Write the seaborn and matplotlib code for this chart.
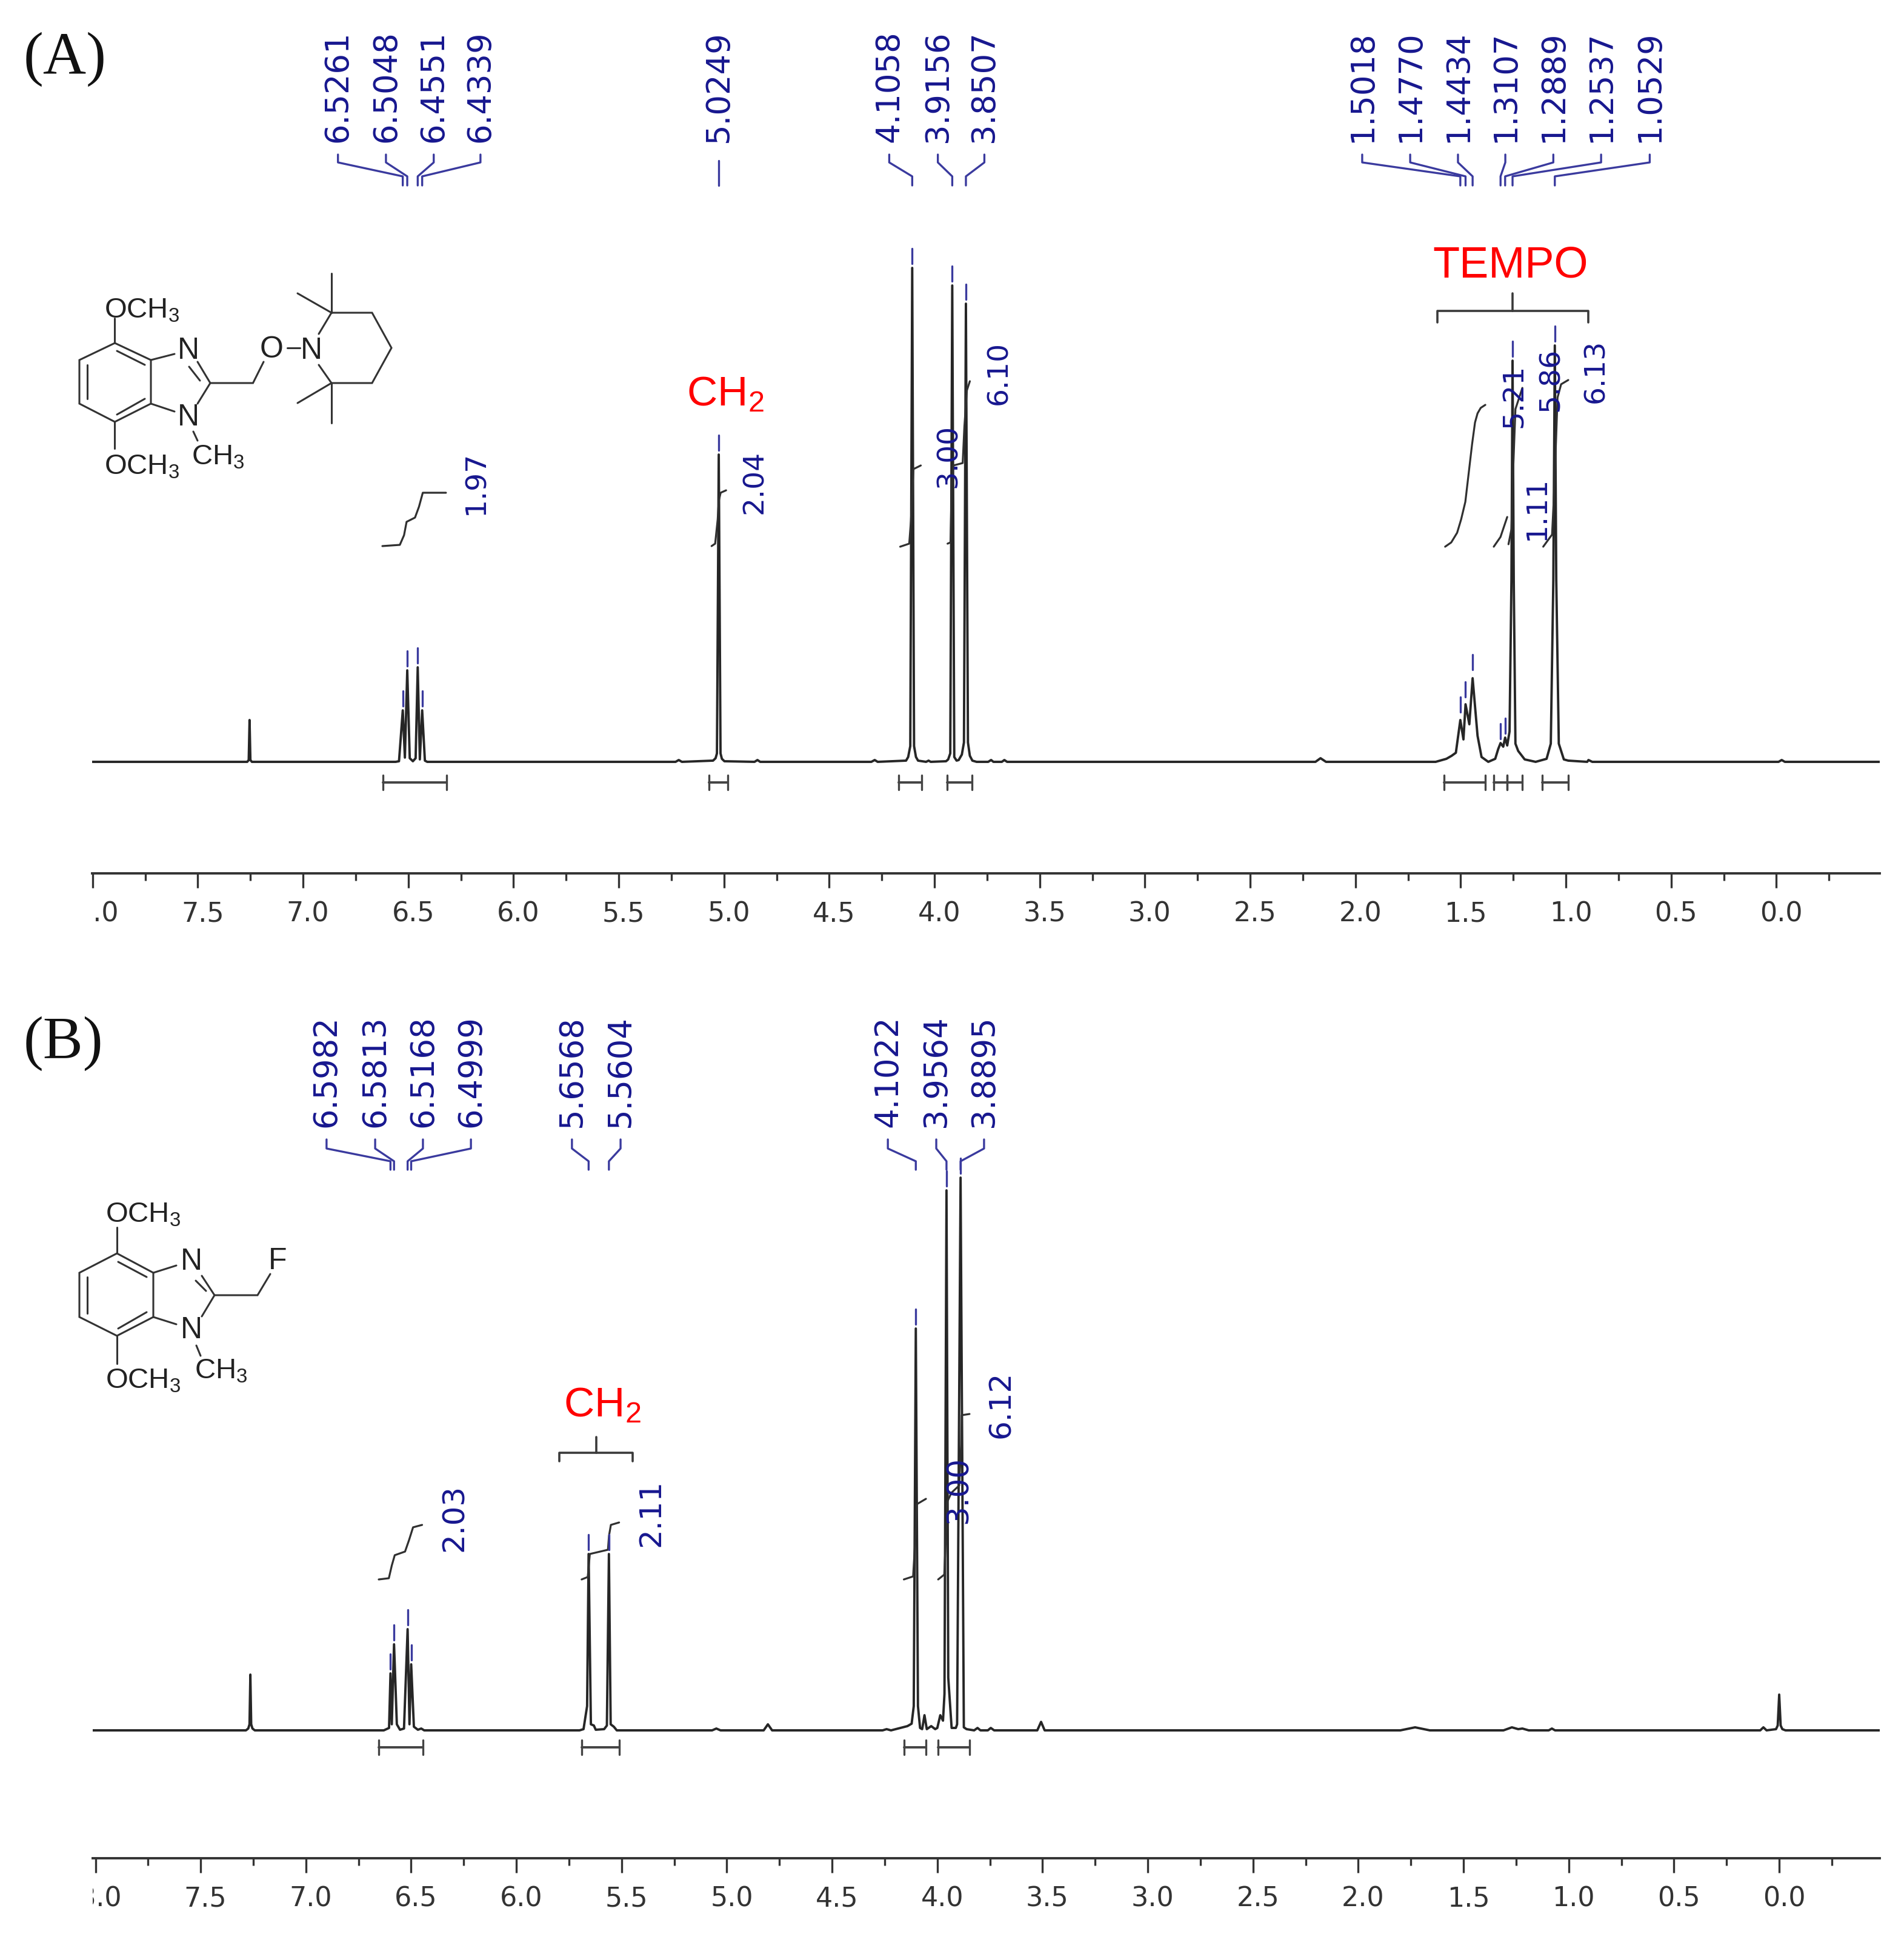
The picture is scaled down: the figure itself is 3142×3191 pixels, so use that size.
import matplotlib

matplotlib.use("Agg")
import matplotlib.pyplot as plt
import seaborn as sns
from matplotlib.transforms import Bbox, ScaledTranslation, TransformedBbox

# spectrum A, ppm and intensity
ppm_a = [8.002, 7.265, 7.258, 7.254, 7.250, 7.243, 6.56, 6.544, 6.5261, 6.516, 6.5048, 6.493, 6.478, 6.465,
         6.4551, 6.445, 6.4339, 6.421, 6.41, 5.230, 5.215, 5.200, 5.052, 5.040, 5.0335, 5.0249, 5.0165, 5.010,
         4.998, 4.855, 4.841, 4.828, 4.30, 4.284, 4.27, 4.135, 4.125, 4.115, 4.1058, 4.097, 4.088, 4.078, 4.04,
         4.028, 4.018, 3.945, 3.935, 3.925, 3.9156, 3.906, 3.895, 3.885, 3.87, 3.860, 3.8507, 3.841, 3.832,
         3.82, 3.80, 3.745, 3.731, 3.72, 3.68, 3.668, 3.655, 2.19, 2.166, 2.14, 1.619, 1.568, 1.543, 1.523,
         1.5018, 1.487, 1.4770, 1.459, 1.4434, 1.420, 1.401, 1.369, 1.336, 1.322, 1.3107, 1.298, 1.2889, 1.279,
         1.268, 1.259, 1.2537, 1.248, 1.240, 1.227, 1.196, 1.144, 1.092, 1.072, 1.060, 1.0529, 1.046, 1.034,
         1.010, 0.989, 0.899, 0.893, 0.875, -0.01, -0.025, -0.04, -0.49]
int_a = [0, 0, 3, 69, 3, 0, 0, 1, 85, 7, 151, 6, 1, 6,
         156, 4, 85, 2, 0, 0, 3, 0, 2, 6, 14, 507, 14, 5,
         1, 0, 3, 0, 0, 3, 0, 2, 8, 26, 815, 26, 8, 2, 0,
         2, 0, 1, 4, 14, 786, 8, 2, 3, 12, 32, 756, 32, 10,
         2, 0, 0, 3, 0, 0, 3, 0, 0, 6, 0, 0, 5, 10, 15,
         69, 37, 95, 62, 138, 43, 8, 0, 5, 21, 31, 25, 40, 27,
         50, 300, 662, 300, 30, 18, 4, 0, 5, 30, 300, 687, 300, 30,
         4, 2, 0, 3, 0, 0, 3, 0, 0]

# spectrum B
ppm_b = [8.013, 7.285, 7.274, 7.268, 7.264, 7.260, 7.254, 7.243, 6.63, 6.611, 6.605, 6.5982, 6.592, 6.5813, 6.568,
         6.553, 6.534, 6.5168, 6.508, 6.4999, 6.487, 6.468, 6.452, 6.438, 5.70, 5.681, 5.664, 5.6568, 5.646,
         5.632, 5.623, 5.583, 5.57, 5.5604, 5.552, 5.537, 5.523, 5.07, 5.05, 5.03, 4.825, 4.805, 4.785, 4.26,
         4.241, 4.22, 4.142, 4.122, 4.112, 4.1022, 4.092, 4.082, 4.072, 4.061, 4.05, 4.029, 4.01, 4.00, 3.986,
         3.973, 3.966, 3.9564, 3.948, 3.932, 3.912, 3.906, 3.8895, 3.874, 3.861, 3.825, 3.809, 3.795, 3.76,
         3.746, 3.73, 3.525, 3.507, 3.49, 1.80, 1.73, 1.66, 1.31, 1.27, 1.24, 1.22, 1.19, 1.095, 1.08, 1.065,
         0.09, 0.075, 0.06, 0.015, 0.007, 0.0, -0.007, -0.015, -0.03, -0.477]
int_b = [0, 0, 3, 10, 92, 10, 3, 0, 0, 3, 4, 94, 10, 142, 10,
         1, 3, 167, 10, 109, 6, 1, 3, 0, 0, 2, 40, 291, 10,
         8, 1, 2, 8, 291, 10, 6, 0, 0, 3, 0, 0, 10, 0, 0,
         2, 0, 7, 11, 40, 663, 40, 4, 2, 25, 2, 7, 2, 4, 25,
         16, 60, 891, 87, 4, 4, 10, 912, 5, 2, 0, 4, 0, 0,
         4, 0, 0, 14, 0, 0, 5, 0, 0, 5, 2, 3, 0, 0, 3, 0,
         0, 5, 0, 2, 8, 59, 8, 2, 0, 0]

# integral traces (ppm, height), one per region
integrals_ppm_a = [
    [6.623, 6.540, 6.520, 6.508, 6.468, 6.449, 6.431, 6.321],
    [5.059, 5.042, 5.030, 5.025, 5.016, 4.990],
    [4.163, 4.120, 4.112, 4.100, 4.065],
    [3.938, 3.924, 3.918, 3.910, 3.866, 3.858, 3.846, 3.832],
    [1.574, 1.545, 1.517, 1.498, 1.478, 1.446, 1.432, 1.420, 1.405, 1.383],
    [1.343, 1.311, 1.279],
    [1.273, 1.259, 1.253, 1.240, 1.207],
    [1.108, 1.066, 1.054, 1.040, 1.023, 0.989],
]
integrals_h_a = [
    [356, 358, 374, 396, 403, 421, 444, 444],
    [356, 360, 400, 430, 444, 448],
    [355, 360, 397, 483, 489],
    [360, 362, 460, 489, 493, 553, 613, 628],
    [355, 362, 378, 400, 429, 524, 560, 575, 584, 589],
    [355, 371, 404],
    [359, 384, 461, 582, 617],
    [355, 375, 461, 601, 623, 630],
]
integrals_ppm_b = [
    [6.654, 6.606, 6.592, 6.578, 6.529, 6.510, 6.491, 6.448],
    [5.690, 5.661, 5.651, 5.565, 5.560, 5.551, 5.512],
    [4.159, 4.115, 4.101, 4.098, 4.054],
    [3.996, 3.967, 3.957, 3.953, 3.933, 3.896, 3.887, 3.884, 3.847],
]
integrals_h_b = [
    [249, 251, 272, 289, 295, 314, 335, 339],
    [249, 253, 291, 298, 321, 339, 343],
    [249, 254, 337, 373, 382],
    [249, 257, 337, 377, 392, 404, 471, 520, 522],
]

# integration ranges under the baseline
ranges_a = [(6.621, 6.318), (5.071, 4.981), (4.169, 4.062), (3.941, 3.823), (1.579, 1.383),
            (1.343, 1.279), (1.279, 1.207), (1.112, 0.988)]
ranges_b = [(6.654, 6.444), (5.690, 5.512), (4.159, 4.054), (3.996, 3.847)]

# integral values: text, ppm, height
integral_text_a = ["1.97", "2.04", "3.00", "6.10", "1.11", "5.21", "5.86", "6.13"]
integral_x_a = [6.178, 4.855, 3.933, 3.693, 1.138, 1.245, 1.072, 0.856]
integral_y_a = [461, 462, 505, 642, 419, 604, 631, 645]
integral_text_b = ["2.03", "2.11", "3.00", "6.12"]
integral_x_b = [6.294, 5.361, 3.899, 3.697]
integral_y_b = [351, 359, 397, 538]

# peak picks: value, peak height, where the label sits (ppm)
shift_a = [6.5261, 6.5048, 6.4551, 6.4339, 5.0249, 4.1058, 3.9156, 3.8507,
           1.5018, 1.4770, 1.4434, 1.3107, 1.2889, 1.2537, 1.0529]
shift_top_a = [85, 151, 156, 85, 507, 815, 786, 756, 75, 100, 145, 31, 40, 662, 687]
shift_label_x_a = [6.834, 6.606, 6.379, 6.157, 5.0249, 4.215, 3.984, 3.763,
                   1.968, 1.740, 1.513, 1.288, 1.060, 0.833, 0.602]
shift_b = [6.5982, 6.5813, 6.5168, 6.4999, 5.6568, 5.5604, 4.1022, 3.9564, 3.8895]
shift_top_b = [94, 142, 167, 109, 291, 291, 663, 891, 912]
shift_label_x_b = [6.902, 6.671, 6.444, 6.216, 5.736, 5.505, 4.235, 4.005, 3.778]

major_ticks = [8.0, 7.5, 7.0, 6.5, 6.0, 5.5, 5.0, 4.5, 4.0, 3.5, 3.0, 2.5, 2.0, 1.5, 1.0, 0.5, 0.0]
minor_ticks = [7.75, 7.25, 6.75, 6.25, 5.75, 5.25, 4.75, 4.25, 3.75, 3.25, 2.75, 2.25, 1.75, 1.25, 0.75, 0.25, -0.25]

NAVY = "#17178f"
BLUE_LINE = "#3a3a9e"
INK = "#262626"
RED = "#ff0000"
W, H = 3142, 3191

sns.set_theme(style="white")
plt.rcParams["font.family"] = ["DejaVu Sans"]
plt.rcParams["mathtext.default"] = "regular"

fig = plt.figure(figsize=(W / 100, H / 100), dpi=100, facecolor="white")


def make_axes(left, right, top, bottom):
    return fig.add_axes([left / W, 1 - bottom / H, (right - left) / W, (bottom - top) / H])


def draw_panel(ax, ppm, intensity, xlim, ylim, integrals_ppm, integrals_h, ranges, range_y,
               shifts, tops, label_x, conn_y):
    sns.lineplot(x=ppm, y=intensity, sort=False, estimator=None, errorbar=None, color=INK, lw=2.8, ax=ax)

    for seg_x, seg_y in zip(integrals_ppm, integrals_h):
        sns.lineplot(x=seg_x, y=seg_y, sort=False, estimator=None, errorbar=None, color="#303030", lw=2.3, ax=ax)

    # integration ranges
    for start, end in ranges:
        ax.plot([start, end], [range_y, range_y], color="#444444", lw=2.8)
        for edge in (start, end):
            ax.plot([edge, edge], [range_y - 12, range_y + 12], color="#444444", lw=2.4)

    # peak picks and the labels above them
    for value, top, lx in zip(shifts, tops, label_x):
        ax.plot([value, value], [top + 7, top + 32], color=BLUE_LINE, lw=2.4)
        if lx == value:
            ax.plot([value, value], [conn_y[0] - 10, conn_y[3]], color=BLUE_LINE, lw=2.4)
        else:
            ax.plot([lx, lx, value, value], conn_y, color=BLUE_LINE, lw=2.4)
        ax.text(lx, conn_y[0] + 20, f"{value:.4f}", rotation=90, ha="center", va="bottom",
                fontsize=38, color=NAVY, clip_on=False)

    ax.set_xlim(*xlim)
    ax.set_ylim(*ylim)
    ax.set_xlabel("")
    ax.set_ylabel("")
    ax.set_yticks([])
    ax.set_xticks(major_ticks)
    ax.set_xticklabels([f"{t:.1f}" for t in major_ticks])
    ax.set_xticks(minor_ticks, minor=True)
    ax.tick_params(axis="x", which="major", bottom=True, length=17, width=2.4, color="#333333",
                   pad=16, labelsize=32, labelcolor="#333333")
    ax.tick_params(axis="x", which="minor", bottom=True, length=8.5, width=2.4, color="#333333")
    sns.despine(ax=ax, left=True)
    ax.spines["bottom"].set_linewidth(2.8)
    ax.spines["bottom"].set_color("#333333")
    ax.patch.set_alpha(0)

    # labels sit a bit right of their ticks and get cut at the axis start
    shift = ScaledTranslation(8 / 100, 0, fig.dpi_scale_trans)
    clip = TransformedBbox(Bbox([[0, -0.5], [1.02, 0.5]]), ax.transAxes)
    for lab in ax.get_xticklabels():
        lab.set_transform(lab.get_transform() + shift)
        lab.set_clip_box(clip)
        lab.set_clip_on(True)


ax_a = make_axes(152, 3101.7, 0, 1440.7)
ax_b = make_axes(153, 3101.7, 1600, 3065.7)

draw_panel(ax_a, ppm_a, int_a, (8.002, -0.49), (-183.7, 1257), integrals_ppm_a, integrals_h_a, ranges_a, -34,
           shift_a, shift_top_a, shift_label_x_a, [1002, 989, 966, 951])
draw_panel(ax_b, ppm_b, int_b, (8.013, -0.477), (-210.7, 1255), integrals_ppm_b, integrals_h_b, ranges_b, -28,
           shift_b, shift_top_b, shift_label_x_b, [975, 960, 939, 925])

for text, x, y in zip(integral_text_a, integral_x_a, integral_y_a):
    ax_a.text(x, y, text, rotation=90, ha="center", va="center", fontsize=34, color=NAVY)
for text, x, y in zip(integral_text_b, integral_x_b, integral_y_b):
    ax_b.text(x, y, text, rotation=90, ha="center", va="center", fontsize=36, color=NAVY)

# TEMPO and CH2 assignments
ax_a.plot([1.612, 1.612, 0.895, 0.895], [725, 744, 744, 725], color="#3a3a3a", lw=2.6)
ax_a.plot([1.255, 1.255], [744, 773], color="#3a3a3a", lw=2.6)
ax_a.text(1.262, 818, "TEMPO", ha="center", va="center", fontsize=52, color=RED, family="Liberation Sans")
ax_a.text(4.993, 606, "CH$_2$", ha="center", va="center", fontsize=50, color=RED, family="Liberation Sans")
ax_b.plot([5.796, 5.796, 5.448, 5.448], [444, 458, 458, 444], color="#3a3a3a", lw=2.6)
ax_b.plot([5.620, 5.620], [458, 484], color="#3a3a3a", lw=2.6)
ax_b.text(5.592, 536, "CH$_2$", ha="center", va="center", fontsize=50, color=RED, family="Liberation Sans")

# structures are drawn in picture pixels on a full-figure layer
over = fig.add_axes([0, 0, 1, 1], facecolor="none")
over.set_xlim(0, W)
over.set_ylim(H, 0)
over.axis("off")

bonds_a = [
    [(189.5, 566), (131, 594), (131, 666), (189.5, 696), (249, 666), (249, 594), (189.5, 566)],
    [(144, 602), (144, 658)], [(193, 579), (239, 602)], [(193, 684), (239, 658)],
    [(189.5, 566), (189.5, 525)], [(189.5, 696), (189.5, 740)],
    [(249, 594), (288, 584)], [(249, 666), (288, 679)],
    [(326, 597), (347, 632), (326, 666)], [(312, 605), (330, 628)],
    [(347, 632), (417.5, 632), (435, 597)], [(474, 574), (495, 574)],
    [(526, 551), (547, 516), (614, 516), (646, 574), (614, 632), (547, 632), (526, 602)],
    [(547, 516), (547, 451)], [(547, 516), (491, 484)], [(547, 632), (547, 698)], [(547, 632), (491, 665)],
    [(319, 712), (326, 727)],
]
bonds_b = [
    [(193, 2068), (131, 2100), (131, 2173), (193, 2204), (253, 2173), (253, 2100), (193, 2068)],
    [(144, 2107), (144, 2167)], [(195, 2082), (242, 2107)], [(195, 2192), (242, 2165)],
    [(193, 2068), (193, 2025)], [(193, 2204), (193, 2250)],
    [(253, 2100), (291, 2088)], [(253, 2173), (291, 2185)],
    [(333, 2105), (354, 2137), (333, 2172)], [(323, 2113), (340, 2130)],
    [(354, 2137), (425, 2137), (446, 2102)],
    [(324, 2220), (331, 2237)],
]
for bond in bonds_a + bonds_b:
    over.plot([p[0] for p in bond], [p[1] for p in bond], color="#333333", lw=2.2, solid_joinstyle="miter")

atoms = [("N", 311, 579), ("N", 311, 689), ("O", 448, 577), ("N", 514, 579),
         ("N", 316, 2082), ("N", 316, 2195), ("F", 458, 2081)]
for sym, x, y in atoms:
    over.text(x, y, sym, ha="center", va="center", fontsize=36, color="#222222", family="Liberation Sans")

groups = [("OCH$_3$", 172, 525), ("OCH$_3$", 172, 783), ("CH$_3$", 316, 766),
          ("OCH$_3$", 174, 2017), ("OCH$_3$", 174, 2290), ("CH$_3$", 321, 2275)]
for sym, x, y in groups:
    over.text(x, y, sym, ha="left", va="baseline", fontsize=34, color="#222222", family="Liberation Sans")

over.text(107, 98, "(A)", ha="center", va="center", fontsize=71, color="#111111", family="Liberation Serif")
over.text(104, 1722, "(B)", ha="center", va="center", fontsize=71, color="#111111", family="Liberation Serif")

fig.savefig("out.png", dpi=100, facecolor="white")
